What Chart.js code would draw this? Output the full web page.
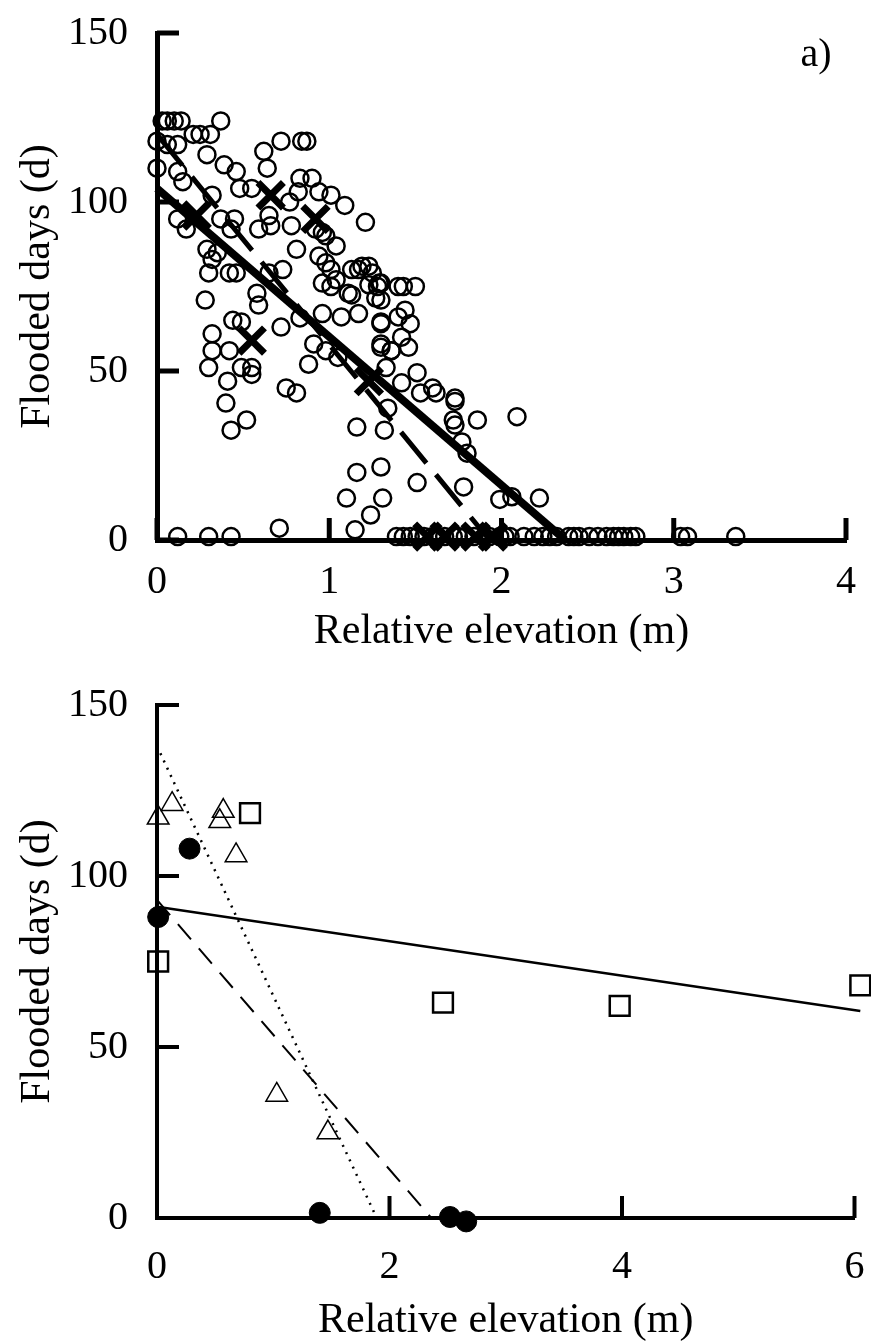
<!DOCTYPE html>
<html>
<head>
<meta charset="utf-8">
<script src="https://cdn.jsdelivr.net/npm/chart.js@4.4.1/dist/chart.umd.min.js"></script>
<style>
  html, body { margin: 0; padding: 0; background: #fff; }
  canvas { display: block; }
</style>
</head>
<body>
<canvas id="topChart" width="871" height="671"></canvas>
<canvas id="bottomChart" width="871" height="671"></canvas>
<script>
// ---- panel a) data ----
const topXTicks = [0, 1, 2, 3, 4];
const yTicks = [0, 50, 100, 150];

const topCircles = [
  [0.03,124],[0.06,124],[0.10,124],[0.14,124],[0.37,124],
  [0.21,120],[0.25,120],[0.31,120],
  [0.00,118],[0.06,117],[0.12,117],
  [0.29,114],[0.00,110],[0.12,109],[0.15,106],
  [0.39,111],[0.46,109],[0.62,115],[0.72,118],[0.84,118],[0.87,118],
  [0.64,110],[0.48,104],[0.55,104],[0.32,102],
  [0.83,107],[0.90,107],[0.82,103],[0.94,103],[1.01,102],[1.09,99],[0.77,100],
  [1.21,94],[0.12,95],[0.17,92],[0.37,95],[0.45,95],[0.43,92],
  [0.59,92],[0.66,93],[0.65,96],[0.78,93],[0.92,92],[0.96,91],
  [0.81,86],[0.29,86],[0.35,85],[0.32,83],[1.04,87],[0.98,90],
  [0.94,84],[0.98,82],[1.01,80],[1.19,81],[1.23,81],[1.13,80],[1.17,80],[1.25,79],[1.29,76],
  [1.28,75],[1.40,75],[0.30,79],[0.42,79],[0.46,79],[0.65,79],[0.73,80],
  [0.96,76],[1.04,77],[1.11,73],
  [0.28,71],[0.58,73],[0.59,69.5],[0.44,65],[0.49,64.5],[0.72,63],[0.83,65.7],
  [0.32,61],[0.32,56],[0.30,51],[0.42,56],[0.49,51],[0.55,51],[0.55,49],[0.41,47],
  [0.40,40.5],[0.52,35.5],[0.43,32.5],
  [0.75,45],[0.81,43.5],[0.88,52],
  [0.96,67],[1.01,75],[1.07,66],[1.13,72.5],[1.17,67],[1.23,75.5],[1.27,71.6],
  [0.91,58],[0.98,56],[1.05,54],[1.30,64],[1.30,58],[1.36,56],
  [1.34,39],[1.16,33.4],[1.32,32.5],[1.16,20],[1.30,21.6],[1.10,12.4],[1.31,12.4],[1.24,7.4],
  [0.71,3.5],[1.15,3],
  [1.30,76],[1.43,75],[1.50,75],[1.30,71],[1.30,64.5],[1.44,68],[1.40,66],[1.47,64],
  [1.30,57],[1.42,60],[1.46,57],[1.36,56],[1.33,51],[1.42,46.5],[1.51,49.5],
  [1.53,43.5],[1.60,45],[1.62,43.5],[1.73,42],[1.73,41],[1.72,35.5],[1.73,34],[1.86,35.5],[2.09,36.5],
  [1.77,29],[1.80,25.7],[1.51,17],[1.78,15.7],[1.99,12],[2.06,12.8],[2.22,12.4],
  // on the axis
  [0.12,1],[0.30,1],[0.43,1],[1.39,1],[1.43,1],[1.47,1],[1.51,1],[1.55,1],[1.60,1],[1.63,1],
  [1.67,1],[1.72,1],[1.75,1],[1.79,1],[1.84,1],[1.93,1],[1.99,1],[2.02,1],[2.05,1],[2.13,1],
  [2.19,1],[2.24,1],[2.28,1],[2.32,1],[2.39,1],[2.42,1],[2.45,1],[2.51,1],[2.56,1],[2.61,1],
  [2.65,1],[2.68,1],[2.71,1],[2.75,1],[2.78,1],[3.04,1],[3.08,1],[3.36,1]
];
const topCrosses = [
  [0.23,96],[0.66,102],[0.92,95],[0.55,59],[1.23,47],
  [1.57,1],[1.67,1],[1.85,1],[1.95,1]
];
const topSolidLine = [[0,104],[2.37,0]];
const topDashedLine = [[0,120],[1.93,0]];

// ---- panel b) data ----
const bottomXTicks = [0, 2, 4, 6];
const triangles = [[0.01,117],[0.13,121],[0.57,119],[0.54,116],[0.68,106],[1.03,36],[1.47,25]];
const squares = [[0.80,118.4],[0.01,75],[2.46,63],[3.98,62],[6.05,68]];
const dots = [[0.28,108],[0.01,88],[1.40,1.5],[2.52,0.3],[2.66,-1]];
const bottomSolidLine = [[0,91],[6.05,60.5]];
const bottomDashedLine = [[0,93],[2.36,0]];
const bottomDottedLine = [[0,138],[1.89,0]];

const toPts = arr => arr.map(p => ({ x: p[0], y: p[1] }));
const FONT = "'Liberation Serif', 'DejaVu Serif', serif";

// inward tick marks + panel letter
const inwardTicks = {
  id: 'inwardTicks',
  afterDatasetsDraw(chart, args, opts) {
    const { ctx, chartArea, scales: { x, y } } = chart;
    ctx.save();
    ctx.strokeStyle = '#000';
    ctx.lineWidth = opts.width;
    x.ticks.forEach(t => {
      const px = x.getPixelForValue(t.value);
      ctx.beginPath();
      ctx.moveTo(px, chartArea.bottom);
      ctx.lineTo(px, chartArea.bottom - opts.length);
      ctx.stroke();
    });
    y.ticks.forEach(t => {
      const py = y.getPixelForValue(t.value);
      ctx.beginPath();
      ctx.moveTo(chartArea.left, py);
      ctx.lineTo(chartArea.left + opts.length, py);
      ctx.stroke();
    });
    if (opts.label) {
      ctx.fillStyle = '#000';
      ctx.font = '40px ' + FONT;
      ctx.textAlign = 'center';
      ctx.textBaseline = 'middle';
      ctx.fillText(opts.label, chartArea.right - 30, chartArea.top + 22);
    }
    ctx.restore();
  }
};

function makeScales(xMax, xTicks, axisW, xPad, xH, titlePad) {
  return {
    x: {
      type: 'linear', min: 0, max: xMax,
      afterBuildTicks: s => { s.ticks = xTicks.map(v => ({ value: v })); },
      grid: { display: false, drawTicks: false },
      border: { display: true, color: '#000', width: axisW },
      ticks: { color: '#000', font: { family: FONT, size: 40 }, padding: xPad, autoSkip: false, maxRotation: 0 },
      title: { display: true, text: 'Relative elevation (m)', color: '#000',
               font: { family: FONT, size: 42, lineHeight: 1.0 }, padding: { top: 0, bottom: titlePad } },
      afterFit: s => { s.height = xH; s.paddingLeft = 0; s.paddingRight = 0; }
    },
    y: {
      type: 'linear', min: 0, max: 150,
      afterBuildTicks: s => { s.ticks = yTicks.map(v => ({ value: v })); },
      grid: { display: false, drawTicks: false },
      border: { display: true, color: '#000', width: axisW },
      ticks: { color: '#000', font: { family: FONT, size: 40 }, padding: 29, autoSkip: false },
      title: { display: true, text: 'Flooded days (d)', color: '#000',
               font: { family: FONT, size: 42, lineHeight: 1.0 }, padding: { top: 17, bottom: 0 } },
      afterFit: s => { s.width = 157; s.paddingTop = 0; s.paddingBottom = 0; }
    }
  };
}

new Chart(document.getElementById('topChart'), {
  type: 'scatter',
  data: {
    datasets: [
      { data: toPts(topSolidLine), showLine: true, borderColor: '#000', borderWidth: 8,
        pointRadius: 0, clip: false },
      { data: toPts(topDashedLine), showLine: true, borderColor: '#000', borderWidth: 5,
        borderDash: [40, 15], pointRadius: 0, clip: false },
      { data: toPts(topCrosses), pointStyle: 'crossRot', pointRadius: 18, borderWidth: 7,
        borderColor: '#000', backgroundColor: '#000', clip: false },
      { data: toPts(topCircles), pointStyle: 'circle', pointRadius: 8.5, borderWidth: 2.5,
        borderColor: '#000', backgroundColor: 'rgba(0,0,0,0)', clip: false }
    ]
  },
  options: {
    responsive: false, animation: false, devicePixelRatio: 1,
    layout: { padding: { left: 0, right: 19, top: 33, bottom: 0 } },
    plugins: { legend: { display: false }, tooltip: { enabled: false },
               inwardTicks: { width: 5, length: 22, label: 'a)' } },
    elements: { line: { tension: 0 } },
    scales: makeScales(4, topXTicks, 5, 18, 131, 18)
  },
  plugins: [inwardTicks]
});

new Chart(document.getElementById('bottomChart'), {
  type: 'scatter',
  data: {
    datasets: [
      { data: toPts(bottomSolidLine), showLine: true, borderColor: '#000', borderWidth: 2.5,
        pointRadius: 0, clip: false },
      { data: toPts(bottomDashedLine), showLine: true, borderColor: '#000', borderWidth: 2,
        borderDash: [20, 12], pointRadius: 0, clip: false },
      { data: toPts(bottomDottedLine), showLine: true, borderColor: '#000', borderWidth: 2.5,
        borderDash: [2, 6], pointRadius: 0, clip: false },
      { data: toPts(dots), pointStyle: 'circle', pointRadius: 10.5, borderWidth: 1,
        borderColor: '#000', backgroundColor: '#000', clip: false },
      { data: toPts(squares), pointStyle: 'rect', pointRadius: 14, borderWidth: 2.5,
        borderColor: '#000', backgroundColor: 'rgba(0,0,0,0)', clip: false },
      { data: toPts(triangles), pointStyle: 'triangle', pointRadius: 12.5, borderWidth: 1.5,
        borderColor: '#000', backgroundColor: 'rgba(0,0,0,0)', clip: false }
    ]
  },
  options: {
    responsive: false, animation: false, devicePixelRatio: 1,
    layout: { padding: { left: 0, right: 16, top: 34, bottom: 0 } },
    plugins: { legend: { display: false }, tooltip: { enabled: false },
               inwardTicks: { width: 4, length: 22, label: '' } },
    elements: { line: { tension: 0 } },
    scales: makeScales(6, bottomXTicks, 4, 25, 124, 0)
  },
  plugins: [inwardTicks]
});
</script>
</body>
</html>
